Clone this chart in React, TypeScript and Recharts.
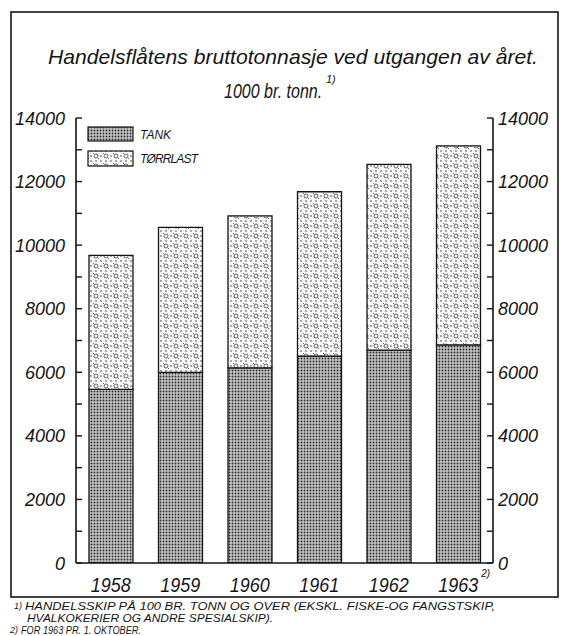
import React from 'react';
import { BarChart, Bar, XAxis, YAxis } from 'recharts';

const years = ['1958', '1959', '1960', '1961', '1962', '1963'];
const tank = [5460, 6000, 6140, 6510, 6700, 6860];
const torrlast = [4220, 4560, 4780, 5170, 5840, 6260];
const yTicks = [0, 1000, 2000, 3000, 4000, 5000, 6000, 7000, 8000, 9000, 10000, 11000, 12000, 13000, 14000];

const chartData = years.map((year, i) => ({ year, tank: tank[i], torrlast: torrlast[i] }));

const FONT = '"Liberation Sans", Arial, sans-serif';
const INK = '#151515';

const LeftTick = (props: any) => {
  const { x, y, payload } = props;
  const major = payload.value % 2000 === 0;
  return (
    <g>
      <line x1={x} x2={x + 6} y1={y} y2={y} stroke={INK} strokeWidth={1.4} />
      {major && (
        <text x={x - 11} y={y} dy={6.5} textAnchor="end" fontSize={18} fontStyle="italic" fontFamily={FONT} fill={INK}>
          {payload.value}
        </text>
      )}
    </g>
  );
};

const RightTick = (props: any) => {
  const { x, y, payload } = props;
  const major = payload.value % 2000 === 0;
  return (
    <g>
      <line x1={x - 6} x2={x} y1={y} y2={y} stroke={INK} strokeWidth={1.4} />
      {major && (
        <text x={x + 5} y={y} dy={6.5} textAnchor="start" fontSize={18} fontStyle="italic" fontFamily={FONT} fill={INK}>
          {payload.value}
        </text>
      )}
    </g>
  );
};

const YearTick = (props: any) => {
  const { x, y, payload } = props;
  const last = payload.value === '1963';
  return (
    <text x={x - 20} y={y + 29} textAnchor="start" fontSize={20} fontStyle="italic" fontFamily={FONT} fill={INK}>
      <tspan textLength={40} lengthAdjust="spacingAndGlyphs">{payload.value}</tspan>
      {last && <tspan dx={3} dy={-15} fontSize={10}>2)</tspan>}
    </text>
  );
};

export default function App() {
  return (
    <div style={{ position: 'absolute', left: 0, top: 0, width: 561, height: 636, background: '#fff' }}>
      <svg width={561} height={636} style={{ position: 'absolute', left: 0, top: 0 }}>
        <defs>
          <pattern id="tankFill" width={3} height={3} patternUnits="userSpaceOnUse">
            <rect width={3} height={3} fill="#c8c8c8" />
            <circle cx={1.5} cy={1.5} r={0.95} fill="#2e2e2e" />
          </pattern>
          <pattern id="torrFill" width={10} height={10} patternUnits="userSpaceOnUse">
            <rect width={10} height={10} fill="#fafafa" />
            <circle cx={1} cy={1} r={0.75} fill="#333" />
            <circle cx={6} cy={1} r={0.75} fill="#333" />
            <circle cx={1} cy={6} r={0.75} fill="#333" />
            <circle cx={3.5} cy={3.5} r={0.6} fill="#555" />
            <circle cx={8.5} cy={8.5} r={0.6} fill="#555" />
            <circle cx={6} cy={6} r={2} fill="none" stroke="#444" strokeWidth={0.8} />
          </pattern>
        </defs>
        <rect x={11} y={12} width={547} height={585} fill="none" stroke={INK} strokeWidth={1.6} />
        <text x={48} y={64} fontSize={21} fontStyle="italic" fontFamily={FONT} fill={INK} textLength={490} lengthAdjust="spacingAndGlyphs">
          Handelsflåtens  bruttotonnasje ved utgangen av året.
        </text>
        <text transform="translate(224,98) scale(0.8,1)" fontSize={20} fontStyle="italic" fontFamily={FONT} fill={INK}>
          1000 br. tonn.
        </text>
        <text x={326} y={83} fontSize={11} fontStyle="italic" fontFamily={FONT} fill={INK}>1)</text>

        <rect x={88} y={127} width={45} height={14} fill="url(#tankFill)" stroke={INK} strokeWidth={1.2} />
        <text x={140} y={139} fontSize={12} fontStyle="italic" fontFamily={FONT} fill={INK}>TANK</text>
        <rect x={88} y={151} width={45} height={15} fill="url(#torrFill)" stroke={INK} strokeWidth={1.2} />
        <text x={140} y={163} fontSize={12} fontStyle="italic" fontFamily={FONT} fill={INK} textLength={58}>TØRRLAST</text>

        <text x={14} y={609} fontSize={9} fontStyle="italic" fontFamily={FONT} fill={INK}>1)</text>
        <text x={25} y={610} fontSize={11} fontStyle="italic" fontFamily={FONT} fill={INK} textLength={470} lengthAdjust="spacingAndGlyphs">
          HANDELSSKIP PÅ 100 BR. TONN OG OVER (EKSKL. FISKE-OG  FANGSTSKIP,
        </text>
        <text x={27} y={622} fontSize={11} fontStyle="italic" fontFamily={FONT} fill={INK} textLength={246} lengthAdjust="spacingAndGlyphs">
          HVALKOKERIER OG ANDRE SPESIALSKIP).
        </text>
        <text x={10} y={633} fontSize={9} fontStyle="italic" fontFamily={FONT} fill={INK}>2)</text>
        <text x={21} y={634} fontSize={11} fontStyle="italic" fontFamily={FONT} fill={INK} textLength={120} lengthAdjust="spacingAndGlyphs">
          FOR 1963 PR. 1. OKTOBER.
        </text>
      </svg>
      <div style={{ position: 'absolute', left: 0, top: 0 }}>
        <BarChart
          width={561}
          height={636}
          data={chartData}
          margin={{ top: 118, right: 8, bottom: 43, left: 16 }}
          barSize={44}
        >
          <XAxis
            dataKey="year"
            height={30}
            axisLine={{ stroke: INK, strokeWidth: 1.6 }}
            tickLine={false}
            tickSize={0}
            tickMargin={0}
            interval={0}
            tick={<YearTick />}
          />
          <YAxis
            yAxisId="left"
            orientation="left"
            width={60}
            domain={[0, 14000]}
            ticks={yTicks}
            interval={0}
            allowDataOverflow
            axisLine={{ stroke: INK, strokeWidth: 1.6 }}
            tickLine={false}
            tickSize={0}
            tickMargin={0}
            tick={<LeftTick />}
          />
          <YAxis
            yAxisId="right"
            orientation="right"
            width={60}
            domain={[0, 14000]}
            ticks={yTicks}
            interval={0}
            allowDataOverflow
            axisLine={{ stroke: INK, strokeWidth: 1.6 }}
            tickLine={false}
            tickSize={0}
            tickMargin={0}
            tick={<RightTick />}
          />
          <Bar yAxisId="left" dataKey="tank" name="TANK" stackId="a" fill="url(#tankFill)" stroke={INK} strokeWidth={1.3} isAnimationActive={false} />
          <Bar yAxisId="left" dataKey="torrlast" name="TØRRLAST" stackId="a" fill="url(#torrFill)" stroke={INK} strokeWidth={1.3} isAnimationActive={false} />
        </BarChart>
      </div>
    </div>
  );
}
